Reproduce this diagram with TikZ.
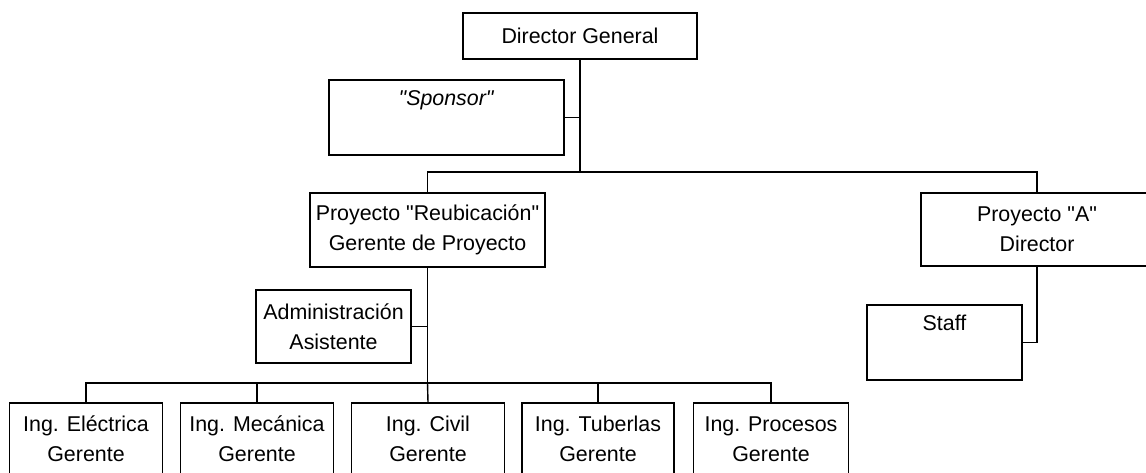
\documentclass[tikz,border=0pt]{standalone}
\usepackage{fontspec}
\setmainfont{Liberation Sans}[Ligatures=TeXOff]
\begin{document}
\begin{tikzpicture}[x=1pt,y=-1pt,
  box/.style={draw=black,line width=1.3pt,rectangle,align=center,inner sep=0pt,
    font=\fontsize{21.4}{30}\selectfont},
  link/.style={draw=black,line width=1.4pt}]
\useasboundingbox (0,0) rectangle (1146,472);
\fill[white] (0,0) rectangle (1146,472);
% nodes
\node[box,minimum width=234,minimum height=46] (dg) at (580,36) {Director General};
\node[box,minimum width=235,minimum height=75] (sp) at (446.5,117.5) {\textit{"Sponsor"}\\\strut};
\node[box,minimum width=235,minimum height=74] (pr) at (427.5,230) {Proyecto "Reubicación"\\Gerente de Proyecto};
\node[box,minimum width=232,minimum height=73] (pa) at (1037,229.5) {Proyecto "A"\\Director};
\node[box,minimum width=155,minimum height=73] (ad) at (333.5,326.5) {Administración\\Asistente};
\node[box,minimum width=155,minimum height=75] (st) at (944.5,342.5) {Staff\\\strut};
\node[box,minimum width=153,minimum height=72] (b1) at (86,439) {Ing. Eléctrica\\Gerente};
\node[box,minimum width=153,minimum height=72] (b2) at (257,439) {Ing. Mecánica\\Gerente};
\node[box,minimum width=153,minimum height=72] (b3) at (428,439) {Ing. Civil\\Gerente};
\node[box,minimum width=152,minimum height=72] (b4) at (598,439) {Ing. Tuberlas\\Gerente};
\node[box,minimum width=155,minimum height=72] (b5) at (771,439) {Ing. Procesos\\Gerente};
% junctions
\coordinate (j1) at (dg.south |- 0,172);
\coordinate (j2) at (pr.south |- 0,383);
% connectors
\draw[link] (dg.south) -- (j1);
\draw[link] (sp.east) -- (sp.east -| dg.south);
\draw[link] (pr.north) |- (j1) -| (pa.north);
\draw[link] (pr.south) -- (j2);
\draw[link] (ad.east) -- (ad.east -| pr.south);
\draw[link] (pa.south) |- (st.east);
\draw[link] (b1.north) |- (j2) -| (b5.north);
\draw[link] (b2.north) |- (j2);
\draw[link] (b3.north) -- (j2);
\draw[link] (b4.north) |- (j2);
\end{tikzpicture}
\end{document}
